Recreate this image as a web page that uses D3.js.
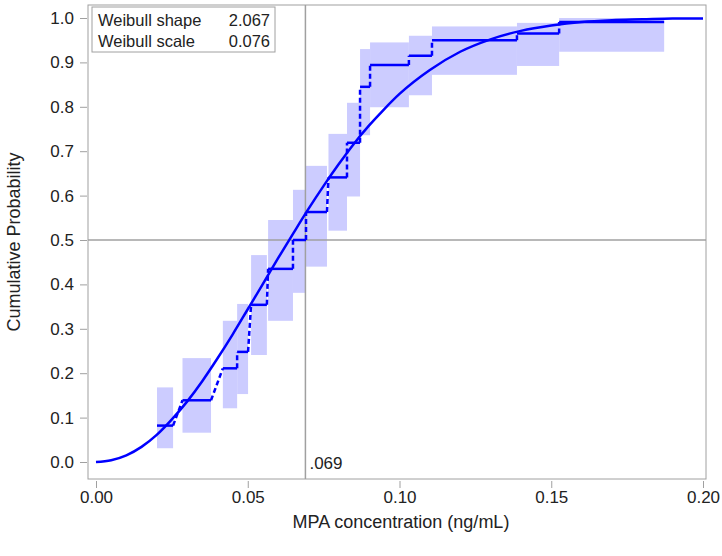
<!DOCTYPE html>
<html>
<head>
<meta charset="utf-8">
<script src="https://cdn.jsdelivr.net/npm/d3@7"></script>
<style>
  body { margin: 0; background: #fff; }
  svg { display: block; font-family: "Liberation Sans", Arial, sans-serif; }
  .tick text { fill: #222; font-size: 17px; }
  .tick line { stroke: #a0a0a0; }
</style>
</head>
<body>
<svg id="chart" width="722" height="556"></svg>
<script>
// interval estimate: each step covers [intervalStart, intervalEnd] at probability stepProb
const intervalStart = [0.0201, 0.0285, 0.0418, 0.0465, 0.0511, 0.0567, 0.0649, 0.0692,
  0.0766, 0.0827, 0.0870, 0.0903, 0.1031, 0.1107, 0.1387, 0.1526];
const intervalEnd = [0.0254, 0.0379, 0.0465, 0.0501, 0.0563, 0.0649, 0.0692, 0.0761,
  0.0827, 0.0870, 0.0903, 0.1031, 0.1107, 0.1387, 0.1526, 0.1872];
const stepProb = [0.082, 0.139, 0.211, 0.248, 0.354, 0.435, 0.500, 0.563,
  0.641, 0.719, 0.845, 0.894, 0.915, 0.950, 0.965, 0.991];
const bandLow = [0.031, 0.066, 0.121, 0.153, 0.241, 0.318, 0.381, 0.440,
  0.521, 0.598, 0.736, 0.799, 0.826, 0.872, 0.892, 0.924];
const bandHigh = [0.168, 0.234, 0.318, 0.356, 0.466, 0.545, 0.613, 0.667,
  0.739, 0.809, 0.930, 0.945, 0.960, 0.981, 0.989, 1.000];

// fitted Weibull cdf
const curveX = [0, 0.005, 0.01, 0.015, 0.02, 0.025, 0.03, 0.035, 0.04, 0.045, 0.05, 0.055,
  0.06, 0.065, 0.07, 0.075, 0.08, 0.085, 0.09, 0.095, 0.10, 0.11, 0.12, 0.13, 0.14,
  0.15, 0.16, 0.17, 0.18, 0.19, 0.20];
const curveP = [0, 0.004, 0.015, 0.034, 0.061, 0.096, 0.136, 0.182, 0.233, 0.287, 0.344, 0.401,
  0.459, 0.515, 0.570, 0.622, 0.671, 0.717, 0.758, 0.795, 0.829, 0.883, 0.924, 0.952, 0.971,
  0.983, 0.991, 0.995, 0.997, 0.999, 0.999];

const xTicks = [0, 0.05, 0.10, 0.15, 0.20];
const yTicks = [0, 0.1, 0.2, 0.3, 0.4, 0.5, 0.6, 0.7, 0.8, 0.9, 1.0];
const medianX = 0.069;
const refP = 0.5;
const legendRows = [['Weibull shape', '2.067'], ['Weibull scale', '0.076']];

const blue = '#0000ff';
const band = '#ccccff';
const grey = '#a0a0a0';

const svg = d3.select('#chart');
const frame = { left: 88, right: 706, top: 5, bottom: 479 };

const x = d3.scaleLinear().domain([0, 0.2]).range([96, 703]);
const y = d3.scaleLinear().domain([0, 1]).range([462, 18]);

// confidence boxes
svg.append('g')
  .selectAll('rect')
  .data(stepProb.map((p, i) => i))
  .enter()
  .append('rect')
  .attr('x', (i) => x(intervalStart[i]))
  .attr('width', (i) => x(intervalEnd[i]) - x(intervalStart[i]))
  .attr('y', (i) => y(bandHigh[i]))
  .attr('height', (i) => y(bandLow[i]) - y(bandHigh[i]))
  .attr('fill', band);

// reference lines
svg.append('line')
  .attr('x1', frame.left).attr('x2', frame.right)
  .attr('y1', y(refP)).attr('y2', y(refP))
  .attr('stroke', grey).attr('stroke-width', 1.5);
svg.append('line')
  .attr('x1', x(medianX)).attr('x2', x(medianX))
  .attr('y1', frame.top).attr('y2', frame.bottom)
  .attr('stroke', grey).attr('stroke-width', 1.5);
svg.append('text')
  .attr('x', x(medianX) + 4)
  .attr('y', y(0) + 7)
  .attr('font-size', 17)
  .attr('fill', '#222')
  .text('.069');

// dashed connectors between steps
const steps = svg.append('g');
steps.selectAll('line.connector')
  .data(stepProb.slice(1).map((p, i) => i))
  .enter()
  .append('line')
  .attr('class', 'connector')
  .attr('x1', (i) => x(intervalEnd[i]))
  .attr('y1', (i) => y(stepProb[i]))
  .attr('x2', (i) => x(intervalStart[i + 1]))
  .attr('y2', (i) => y(stepProb[i + 1]))
  .attr('stroke', blue)
  .attr('stroke-width', 2.5)
  .attr('stroke-dasharray', '5,3');

// solid steps
steps.selectAll('line.tread')
  .data(stepProb.map((p, i) => i))
  .enter()
  .append('line')
  .attr('class', 'tread')
  .attr('x1', (i) => x(intervalStart[i]))
  .attr('x2', (i) => x(intervalEnd[i]))
  .attr('y1', (i) => y(stepProb[i]))
  .attr('y2', (i) => y(stepProb[i]))
  .attr('stroke', blue)
  .attr('stroke-width', 2.5);

// fitted curve
const line = d3.line()
  .x((d) => x(d[0]))
  .y((d) => y(d[1]))
  .curve(d3.curveMonotoneX);
svg.append('path')
  .datum(curveX.map((v, i) => [v, curveP[i]]))
  .attr('d', line)
  .attr('fill', 'none')
  .attr('stroke', blue)
  .attr('stroke-width', 2.5);

// frame
svg.append('rect')
  .attr('x', frame.left).attr('y', frame.top)
  .attr('width', frame.right - frame.left)
  .attr('height', frame.bottom - frame.top)
  .attr('fill', 'none')
  .attr('stroke', grey);

// axes
const yAxis = svg.append('g')
  .attr('transform', `translate(${frame.left - 1},0)`)
  .call(d3.axisLeft(y).tickValues(yTicks).tickFormat(d3.format('.1f')).tickSize(7).tickPadding(6));
yAxis.select('.domain').remove();

const xAxis = svg.append('g')
  .attr('transform', `translate(0,${frame.bottom + 2})`)
  .call(d3.axisBottom(x).tickValues(xTicks).tickFormat(d3.format('.2f')).tickSize(7).tickPadding(3));
xAxis.select('.domain').remove();

svg.append('text')
  .attr('x', (frame.left + frame.right) / 2 + 4)
  .attr('y', 528)
  .attr('text-anchor', 'middle')
  .attr('font-size', 18)
  .attr('fill', '#222')
  .text('MPA concentration (ng/mL)');

svg.append('text')
  .attr('transform', `translate(20,${(frame.top + frame.bottom) / 2}) rotate(-90)`)
  .attr('text-anchor', 'middle')
  .attr('font-size', 18)
  .attr('fill', '#222')
  .text('Cumulative Probability');

// legend box
const legend = svg.append('g').attr('transform', 'translate(92,7)');
legend.append('rect')
  .attr('width', 183).attr('height', 45)
  .attr('fill', '#fff')
  .attr('stroke', grey);
legend.selectAll('text.label')
  .data(legendRows)
  .enter()
  .append('text')
  .attr('class', 'label')
  .attr('x', 6)
  .attr('y', (d, i) => 19 + i * 21)
  .attr('font-size', 16.5)
  .attr('fill', '#222')
  .text((d) => d[0]);
legend.selectAll('text.value')
  .data(legendRows)
  .enter()
  .append('text')
  .attr('class', 'value')
  .attr('x', 178)
  .attr('y', (d, i) => 19 + i * 21)
  .attr('text-anchor', 'end')
  .attr('font-size', 16.5)
  .attr('fill', '#222')
  .text((d) => d[1]);
</script>
</body>
</html>
